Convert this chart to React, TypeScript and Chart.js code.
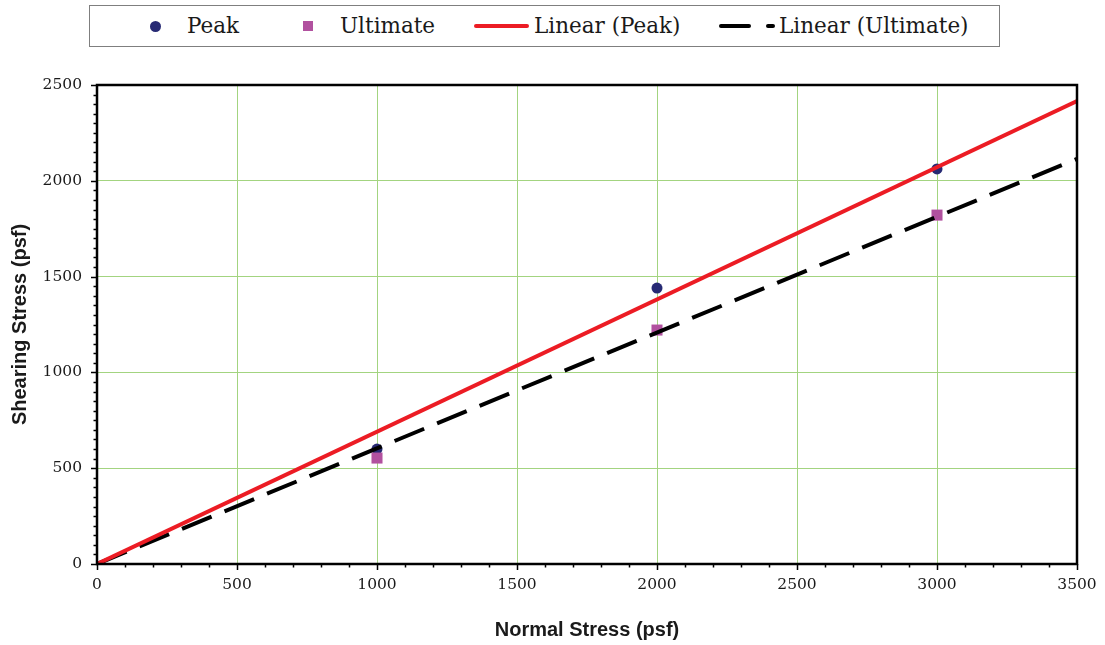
import React, { useEffect, useRef } from 'react';
import { Chart, registerables } from 'chart.js';

Chart.register(...registerables);

// ---- data ----
const normalStress = [1000, 2000, 3000];
const peakShear = [600, 1440, 2062];
const ultimateShear = [553, 1221, 1821];
const seriesNames = ['Peak', 'Ultimate', 'Linear (Peak)', 'Linear (Ultimate)'];
const xMax = 3500;
const yMax = 2500;
const majorStep = 500;
const xMinorStep = 100;
const yMinorStep = 50;
const xTitle = 'Normal Stress (psf)';
const yTitle = 'Shearing Stress (psf)';

// ---- styles ----
const NAVY = '#272a74';
const MAGENTA = '#b1519f';
const RED = '#ec1c24';
const GRID = '#a3d480';
const TEXT = '#1a1a1a';
const SERIF = "'DejaVu Serif', serif";
const SANS = "'Liberation Sans', Arial, sans-serif";

// least-squares trend through the origin (Excel trendline with intercept 0)
function originSlope(xs: number[], ys: number[]): number {
  let sxy = 0;
  let sxx = 0;
  xs.forEach((x, i) => {
    sxy += x * ys[i];
    sxx += x * x;
  });
  return sxy / sxx;
}

const framePlugin = {
  id: 'frameAndTicks',
  afterDraw(chart: any) {
    const { ctx, chartArea, scales } = chart;
    const { left, right, top, bottom } = chartArea;
    const xs = scales.x;
    const ys = scales.y;
    ctx.save();
    ctx.strokeStyle = '#000';
    ctx.lineWidth = 1.5;
    ctx.beginPath();
    for (let v = 0; v <= yMax; v += yMinorStep) {
      const py = Math.round(ys.getPixelForValue(v)) + 0.5;
      const len = v % majorStep === 0 ? 6 : 3.5;
      ctx.moveTo(left - len, py);
      ctx.lineTo(left, py);
    }
    for (let v = 0; v <= xMax; v += xMinorStep) {
      const px = Math.round(xs.getPixelForValue(v)) + 0.5;
      const len = v % majorStep === 0 ? 6 : 3.5;
      ctx.moveTo(px, bottom);
      ctx.lineTo(px, bottom + len);
    }
    ctx.stroke();
    ctx.lineWidth = 2.5;
    ctx.strokeRect(left, top, right - left, bottom - top);
    ctx.restore();
  },
};

function LegendBox() {
  const base: React.CSSProperties = { position: 'absolute' };
  const text = (left: number, label: string) => (
    <div
      style={{
        ...base,
        left,
        top: 5,
        height: 42,
        lineHeight: '42px',
        fontFamily: SERIF,
        fontSize: 21.5,
        color: TEXT,
        whiteSpace: 'nowrap',
      }}
    >
      {label}
    </div>
  );
  return (
    <>
      <div
        style={{
          ...base,
          left: 89,
          top: 5,
          width: 911,
          height: 42,
          border: '1px solid #7f7f7f',
          boxSizing: 'border-box',
          background: '#fff',
        }}
      />
      <div style={{ ...base, left: 150, top: 21, width: 11, height: 11, borderRadius: '50%', background: NAVY }} />
      {text(187, seriesNames[0])}
      <div style={{ ...base, left: 303, top: 21, width: 10, height: 10, background: MAGENTA }} />
      {text(340, seriesNames[1])}
      <div style={{ ...base, left: 474, top: 24, width: 55, height: 4, background: RED, borderRadius: 2 }} />
      {text(534, seriesNames[2])}
      <div style={{ ...base, left: 719, top: 24, width: 32, height: 4, background: '#000', borderRadius: 2 }} />
      <div style={{ ...base, left: 766, top: 24, width: 9, height: 4, background: '#000', borderRadius: 2 }} />
      {text(779, seriesNames[3])}
    </>
  );
}

export default function App() {
  const canvasRef = useRef<HTMLCanvasElement | null>(null);

  useEffect(() => {
    document.body.style.margin = '0';
    const canvas = canvasRef.current;
    if (!canvas) return;

    const peakSlope = originSlope(normalStress, peakShear);
    const ultSlope = originSlope(normalStress, ultimateShear);
    const trendX = [0, xMax];
    const plain = (v: any) => String(v);

    const chart = new Chart(canvas, {
      type: 'scatter',
      data: {
        datasets: [
          {
            label: seriesNames[2],
            data: trendX.map((x) => ({ x, y: peakSlope * x })),
            showLine: true,
            borderColor: RED,
            backgroundColor: RED,
            borderWidth: 4,
            pointRadius: 0,
            order: 0,
          },
          {
            label: seriesNames[3],
            data: trendX.map((x) => ({ x, y: ultSlope * x })),
            showLine: true,
            borderColor: '#000',
            backgroundColor: '#000',
            borderWidth: 4,
            borderDash: [32, 14],
            pointRadius: 0,
            order: 1,
          },
          {
            label: seriesNames[0],
            data: normalStress.map((x, i) => ({ x, y: peakShear[i] })),
            pointStyle: 'circle',
            pointRadius: 5.5,
            backgroundColor: NAVY,
            borderColor: NAVY,
            borderWidth: 0,
            order: 3,
          },
          {
            label: seriesNames[1],
            data: normalStress.map((x, i) => ({ x, y: ultimateShear[i] })),
            pointStyle: 'rect',
            pointRadius: 7.8,
            backgroundColor: MAGENTA,
            borderColor: MAGENTA,
            borderWidth: 0,
            order: 2,
          },
        ],
      } as any,
      options: {
        animation: false,
        responsive: true,
        maintainAspectRatio: false,
        layout: { padding: { top: 85, right: 28, left: 0, bottom: 0 } },
        plugins: {
          legend: { display: false },
          tooltip: { enabled: false },
        },
        scales: {
          x: {
            type: 'linear',
            min: 0,
            max: xMax,
            ticks: {
              stepSize: majorStep,
              padding: 12,
              color: TEXT,
              font: { family: SERIF, size: 15.5 },
              maxRotation: 0,
              callback: plain,
            },
            grid: { color: GRID, lineWidth: 1, drawTicks: false },
            border: { display: false },
            title: {
              display: true,
              text: xTitle,
              color: TEXT,
              font: { family: SANS, size: 20, weight: 'bold' },
              padding: { top: 0, bottom: 3 },
            },
            afterFit: (s: any) => {
              s.height = 81;
              s.paddingLeft = 0;
              s.paddingRight = 0;
            },
          },
          y: {
            type: 'linear',
            min: 0,
            max: yMax,
            ticks: {
              stepSize: majorStep,
              padding: 15,
              color: TEXT,
              font: { family: SERIF, size: 15.5 },
              callback: plain,
            },
            grid: { color: GRID, lineWidth: 1, drawTicks: false },
            border: { display: false },
            title: {
              display: true,
              text: yTitle,
              color: TEXT,
              font: { family: SANS, size: 20, weight: 'bold' },
              padding: { top: 8, bottom: 0 },
            },
            afterFit: (s: any) => {
              s.width = 97;
              s.paddingTop = 0;
              s.paddingBottom = 0;
            },
          },
        },
      } as any,
      plugins: [framePlugin],
    });

    return () => chart.destroy();
  }, []);

  return (
    <div style={{ position: 'absolute', left: 0, top: 0, width: 1105, height: 645, background: '#fff' }}>
      <canvas ref={canvasRef} />
      <LegendBox />
    </div>
  );
}
